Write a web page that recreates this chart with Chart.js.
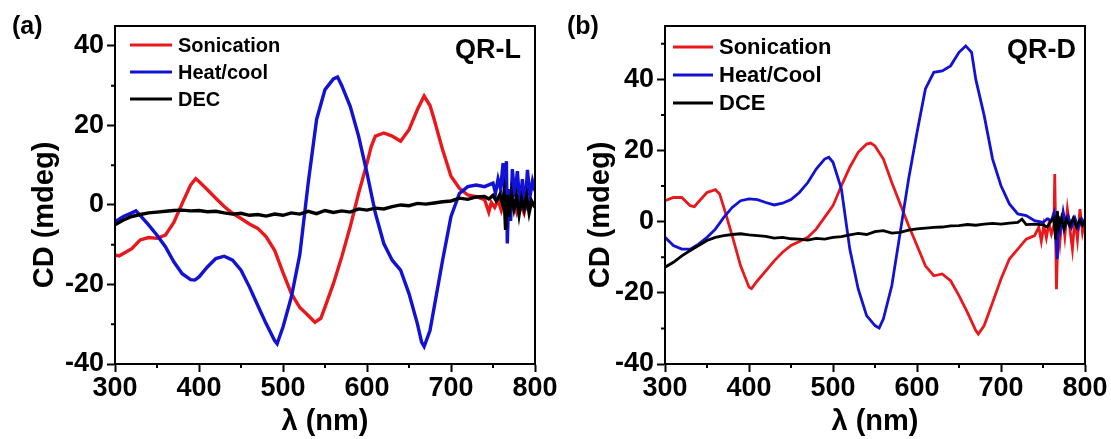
<!DOCTYPE html>
<html>
<head>
<meta charset="utf-8">
<script src="https://cdn.jsdelivr.net/npm/chart.js@4.4.1/dist/chart.umd.min.js"></script>
<style>
  html, body { margin: 0; padding: 0; background: #fff; }
  #wrap { position: relative; width: 1111px; height: 439px; overflow: hidden; }
  .panel { position: absolute; top: 0; height: 439px; }
  #pa { left: 0; width: 575px; }
  #pb { left: 555px; width: 556px; }
</style>
</head>
<body>
<div id="wrap">
  <div class="panel" id="pa"><canvas id="chartA"></canvas></div>
  <div class="panel" id="pb"><canvas id="chartB"></canvas></div>
</div>
<script>
// axis ticks
const xTicks = [300, 400, 500, 600, 700, 800];
const xMinor = [350, 450, 550, 650, 750];
const yTicks = [-40, -20, 0, 20, 40];
const yMinorA = [-30, -10, 10, 30];
const yMinorB = [-30, -10, 10, 30, 50];

// (a) QR-L, [wavelength nm, CD mdeg]
const sonicationA = [[300,-12.6],[305,-12.8],[310,-12.2],[320,-11.0],[330,-8.8],[340,-8.2],[350,-8.4],[360,-7.6],[370,-4.4],[380,0.4],[390,5.0],[396,6.6],[400,5.9],[410,3.8],[420,1.7],[430,-0.4],[440,-2.1],[450,-3.4],[460,-4.8],[470,-5.9],[480,-8.0],[490,-11.4],[500,-17.0],[510,-22.3],[520,-25.8],[530,-27.8],[538,-29.5],[545,-28.5],[550,-25.7],[560,-19.8],[570,-13.0],[580,-5.5],[590,2.9],[600,10.5],[605,14.7],[610,17.3],[620,18.1],[630,17.3],[640,16.0],[650,18.9],[660,24.0],[668,27.4],[675,25.0],[680,21.5],[690,13.9],[700,7.2],[710,4.2],[720,2.5],[730,2.1],[740,1.3],[745,-1.8],[748,0.6],[752,-0.6],[756,1.2],[760,-1.4],[763,0.8],[766,-2.0],[769,1.4],[772,-1.0],[775,0.6],[778,-1.6],[781,1.2],[784,-0.4],[787,-2.0],[790,0.8],[793,-1.2],[796,0.4],[800,-0.6]];
const heatCoolA = [[300,-4.2],[310,-2.9],[320,-2.0],[325,-1.5],[330,-2.6],[340,-5.0],[350,-7.6],[360,-10.5],[370,-14.3],[380,-17.3],[390,-18.8],[395,-18.9],[400,-18.1],[410,-15.6],[420,-13.5],[430,-12.9],[440,-13.9],[450,-16.4],[460,-20.6],[470,-25.3],[480,-29.9],[490,-34.1],[493,-34.9],[500,-30.7],[510,-23.1],[520,-12.5],[530,5.5],[540,21.5],[550,29.0],[560,31.7],[565,32.2],[570,30.0],[580,24.8],[590,17.3],[600,8.0],[610,-2.1],[620,-9.7],[630,-13.9],[640,-16.4],[650,-22.3],[660,-29.9],[665,-34.5],[668,-35.6],[675,-31.6],[680,-25.7],[690,-13.9],[700,-2.9],[710,2.9],[720,4.6],[730,5.0],[740,4.6],[750,5.5],[753,3.0],[756,6.5],[759,4.0],[762,10.5],[764,3.0],[766,11.0],[767,-9.7],[769,4.0],[771,-4.0],[773,9.0],[776,2.0],[779,8.5],[782,0.0],[785,6.5],[788,-1.3],[791,8.8],[794,2.0],[797,6.0],[800,3.5]];
const decA = [[300,-5.0],[310,-3.8],[320,-2.9],[330,-2.4],[340,-2.0],[350,-1.8],[360,-1.6],[370,-1.4],[380,-1.3],[390,-1.5],[400,-1.4],[410,-1.7],[420,-1.6],[430,-2.0],[440,-2.3],[450,-2.1],[460,-2.6],[470,-2.4],[480,-2.8],[490,-2.3],[500,-2.6],[510,-2.0],[520,-2.3],[530,-1.6],[540,-2.2],[550,-1.4],[560,-1.9],[570,-1.5],[580,-1.8],[590,-1.0],[600,-1.3],[610,-0.8],[620,-1.0],[630,-0.4],[640,0.0],[650,-0.2],[660,0.4],[670,0.2],[680,0.5],[690,0.8],[700,1.0],[710,1.7],[720,1.4],[730,2.0],[740,2.1],[745,1.5],[750,2.4],[754,1.0],[758,2.6],[761,0.5],[763,3.0],[765,-6.3],[767,2.5],[769,-3.0],[772,2.8],[775,-1.0],[778,2.0],[781,-2.5],[784,1.5],[787,-1.0],[790,2.2],[793,-2.0],[796,1.0],[800,-0.5]];

// (b) QR-D
const sonicationB = [[300,5.9],[310,6.8],[320,6.8],[330,4.5],[335,4.2],[340,5.6],[350,8.2],[360,9.0],[365,7.8],[370,4.0],[380,-3.9],[390,-12.4],[400,-18.4],[403,-18.8],[410,-16.6],[420,-13.8],[430,-11.0],[440,-8.6],[450,-6.7],[460,-5.6],[470,-4.4],[480,-2.1],[490,1.2],[500,4.5],[510,10.1],[520,15.3],[530,19.5],[540,21.8],[545,22.1],[550,21.3],[560,17.6],[570,11.0],[580,5.0],[590,-1.1],[600,-6.7],[610,-12.4],[620,-15.2],[630,-14.7],[640,-16.6],[650,-20.8],[660,-25.5],[670,-30.6],[673,-31.6],[680,-29.2],[690,-22.7],[700,-16.1],[710,-10.5],[720,-7.7],[730,-4.9],[740,-3.9],[745,-1.5],[748,-5.5],[751,-1.0],[754,-4.5],[757,-0.5],[760,-3.5],[763,-1.0],[764,13.4],[766,-19.0],[768,-2.0],[770,-6.0],[773,2.5],[776,-4.0],[779,3.5],[782,-2.0],[785,-7.7],[788,1.0],[791,-5.0],[794,3.5],[797,-3.0],[800,0.5]];
const heatCoolB = [[300,-4.4],[310,-6.7],[320,-7.7],[330,-7.7],[340,-6.3],[350,-4.4],[360,-2.1],[370,1.2],[380,4.0],[390,5.9],[400,6.4],[410,6.2],[420,5.4],[430,4.7],[440,5.2],[450,6.2],[460,8.2],[470,11.0],[480,14.8],[490,17.6],[495,18.1],[500,16.7],[510,9.2],[520,-7.7],[530,-18.9],[540,-26.4],[550,-29.2],[555,-29.9],[560,-27.3],[570,-18.0],[580,-3.0],[590,12.0],[600,25.1],[610,37.3],[620,42.0],[630,42.4],[640,43.8],[650,47.6],[658,49.4],[665,47.6],[670,40.0],[680,29.8],[690,17.6],[700,10.1],[710,5.0],[720,2.2],[730,1.7],[740,0.3],[750,-0.2],[755,0.8],[760,0.3],[763,2.5],[765,-3.0],[767,-10.5],[769,1.5],[771,-2.0],[774,2.8],[777,-1.0],[780,1.5],[784,-1.5],[788,1.0],[792,-1.8],[796,0.8],[800,-0.5]];
const dceB = [[300,-12.8],[310,-11.4],[320,-9.6],[330,-8.1],[340,-6.7],[350,-5.3],[360,-4.4],[370,-3.9],[380,-3.6],[390,-3.4],[400,-3.7],[410,-3.9],[420,-4.1],[430,-4.6],[440,-4.4],[450,-4.8],[460,-4.9],[470,-5.2],[480,-4.7],[490,-4.9],[500,-4.4],[510,-4.2],[520,-3.7],[530,-3.3],[540,-3.6],[550,-2.8],[560,-2.5],[570,-3.2],[580,-3.0],[590,-2.4],[600,-2.0],[610,-1.8],[620,-1.6],[630,-1.5],[640,-1.2],[650,-1.1],[660,-0.8],[670,-1.0],[680,-0.7],[690,-0.5],[700,-0.7],[710,-0.4],[720,-0.2],[725,0.7],[730,-0.8],[740,-0.7],[750,-0.9],[755,-1.5],[760,0.3],[763,1.0],[765,-5.0],[767,3.0],[769,-1.5],[772,1.0],[775,-2.0],[778,0.8],[782,-1.2],[786,1.0],[790,-1.5],[794,0.5],[797,-1.0],[800,0.3]];

const FONT = '"Liberation Sans", Arial, sans-serif';
const RED = "#e8181c";
const BLUE = "#1212d4";
const BLACK = "#000000";

const toXY = arr => arr.map(p => ({ x: p[0], y: p[1] }));

// frame, minor ticks, y title, panel letter, sample tag and legend
const decor = {
  id: "decor",
  afterDraw(chart, args, o) {
    const { ctx, chartArea: a, scales: { x, y } } = chart;
    ctx.save();
    ctx.strokeStyle = "#000";
    ctx.lineWidth = 2;
    ctx.strokeRect(a.left, a.top, a.right - a.left, a.bottom - a.top);
    ctx.beginPath();
    o.xMinor.forEach(v => {
      const px = x.getPixelForValue(v);
      ctx.moveTo(px, a.bottom);
      ctx.lineTo(px, a.bottom + 4);
    });
    o.yMinor.forEach(v => {
      const py = y.getPixelForValue(v);
      ctx.moveTo(a.left, py);
      ctx.lineTo(a.left - 4, py);
    });
    ctx.stroke();

    ctx.fillStyle = "#000";
    ctx.textBaseline = "middle";

    // y axis title sits a little below the plot middle, as in the figure
    ctx.save();
    ctx.translate(o.yTitleX, 215);
    ctx.rotate(-Math.PI / 2);
    ctx.textAlign = "center";
    ctx.font = "bold 29px " + FONT;
    ctx.fillText("CD (mdeg)", 0, 0);
    ctx.restore();

    ctx.textAlign = "left";
    ctx.font = "bold 25px " + FONT;
    ctx.fillText(o.letter, 12, 27);
    ctx.textAlign = "right";
    ctx.font = "bold 27px " + FONT;
    ctx.fillText(o.tag, o.tagX, 51);

    ctx.textAlign = "left";
    ctx.font = "bold " + o.legFont + "px " + FONT;
    chart.data.datasets.forEach((ds, i) => {
      const ly = o.legY + i * o.legGap;
      ctx.strokeStyle = ds.borderColor;
      ctx.lineWidth = 3;
      ctx.beginPath();
      ctx.moveTo(o.legX, ly);
      ctx.lineTo(o.legX + o.legLen, ly);
      ctx.stroke();
      ctx.fillText(ds.label, o.legX + o.legLen + 6, ly + 1);
    });
    ctx.restore();
  }
};

function makePanel(id, series, labels, yMax, axisW, padRight, deco, lw) {
  const colors = [RED, BLUE, BLACK];
  const tickFont = { family: FONT, size: 27, weight: "bold" };
  const titleFont = { family: FONT, size: 29, weight: "bold" };
  new Chart(document.getElementById(id), {
    type: "line",
    data: {
      datasets: series.map((s, i) => ({
        label: labels[i],
        data: toXY(s),
        borderColor: colors[i],
        backgroundColor: colors[i],
        borderWidth: lw,
        pointRadius: 0,
        tension: 0,
        order: 2 - i
      }))
    },
    options: {
      responsive: true,
      maintainAspectRatio: false,
      animation: false,
      layout: { padding: { left: 0, right: padRight, top: 26, bottom: 0 } },
      plugins: { legend: { display: false }, tooltip: { enabled: false }, decor: deco },
      scales: {
        x: {
          type: "linear",
          min: 300,
          max: 800,
          afterBuildTicks: s => { s.ticks = xTicks.map(v => ({ value: v })); },
          afterFit: s => { s.height = 75; s.paddingLeft = 0; s.paddingRight = 0; },
          ticks: { font: tickFont, color: "#000", padding: 0, maxRotation: 0, autoSkip: false },
          grid: { drawOnChartArea: false, tickLength: 8, tickWidth: 2, tickColor: "#000" },
          border: { color: "#000", width: 2 },
          title: { display: true, text: "λ (nm)", font: titleFont, color: "#000", padding: { top: 0, bottom: 0 } }
        },
        y: {
          type: "linear",
          min: -40,
          max: yMax,
          afterBuildTicks: s => { s.ticks = yTicks.map(v => ({ value: v })); },
          afterFit: s => { s.width = axisW; s.paddingTop = 0; s.paddingBottom = 0; },
          ticks: { font: tickFont, color: "#000", padding: 3, autoSkip: false },
          grid: { drawOnChartArea: false, tickLength: 8, tickWidth: 2, tickColor: "#000" },
          border: { color: "#000", width: 2 }
        }
      }
    },
    plugins: [decor]
  });
}

makePanel("chartA", [sonicationA, heatCoolA, decA], ["Sonication", "Heat/cool", "DEC"], 45, 115, 40,
  { xMinor: xMinor, yMinor: yMinorA, yTitleX: 45, letter: "(a)", tag: "QR-L", tagX: 521, legX: 130, legLen: 42, legY: 45, legGap: 27, legFont: 20 }, 3.4);
makePanel("chartB", [sonicationB, heatCoolB, dceB], ["Sonication", "Heat/Cool", "DCE"], 55, 110, 26,
  { xMinor: xMinor, yMinor: yMinorB, yTitleX: 46, letter: "(b)", tag: "QR-D", tagX: 521, legX: 118, legLen: 40, legY: 47, legGap: 28, legFont: 22 }, 2.8);
</script>
</body>
</html>
